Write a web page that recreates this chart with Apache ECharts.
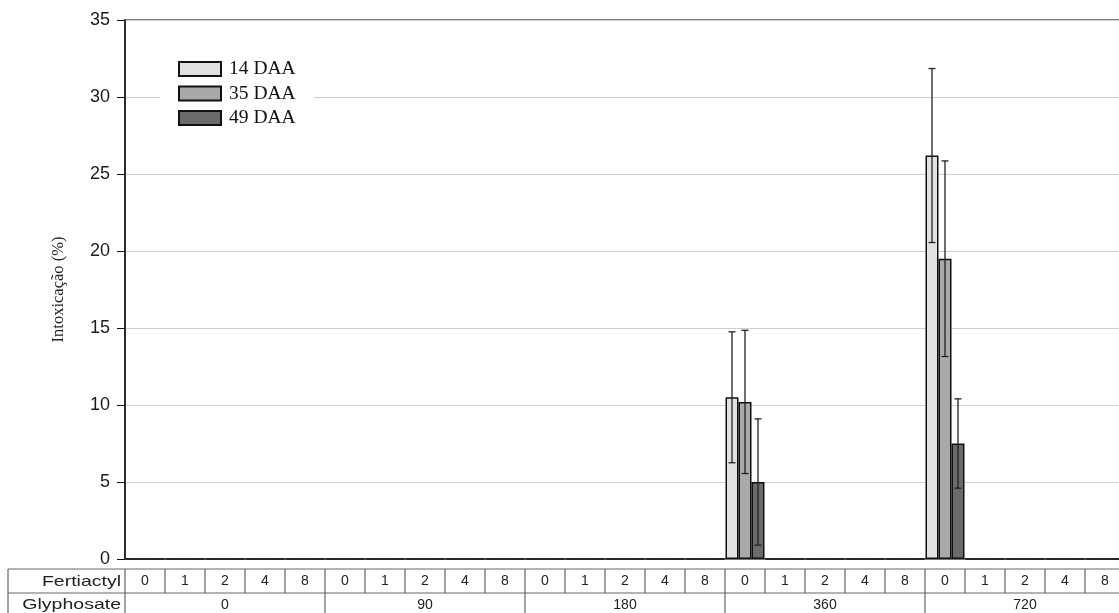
<!DOCTYPE html>
<html>
<head>
<meta charset="utf-8">
<script src="https://cdn.jsdelivr.net/npm/echarts@6/dist/echarts.min.js"></script>
<style>
  html, body { margin: 0; padding: 0; background: #fff; overflow: hidden; }
  #chart { width: 1135px; height: 613px; }
</style>
</head>
<body>
<div id="chart"></div>
<script>
// ====== data ======
const fertiactylDoses = ["0", "1", "2", "4", "8"];
const glyphosateDoses = ["0", "90", "180", "360", "720"];
const seriesNames = ["14 DAA", "35 DAA", "49 DAA"];

// one value per (glyphosate, fertiactyl) cell, 25 cells
const daa14 = [0,0,0,0,0, 0,0,0,0,0, 0,0,0,0,0, 10.5,0,0,0,0, 26.2,0,0,0,0];
const daa35 = [0,0,0,0,0, 0,0,0,0,0, 0,0,0,0,0, 10.2,0,0,0,0, 19.5,0,0,0,0];
const daa49 = [0,0,0,0,0, 0,0,0,0,0, 0,0,0,0,0, 5.0,0,0,0,0, 7.5,0,0,0,0];
// half-width of the error bars
const err14 = [0,0,0,0,0, 0,0,0,0,0, 0,0,0,0,0, 4.25,0,0,0,0, 5.65,0,0,0,0];
const err35 = [0,0,0,0,0, 0,0,0,0,0, 0,0,0,0,0, 4.65,0,0,0,0, 6.35,0,0,0,0];
const err49 = [0,0,0,0,0, 0,0,0,0,0, 0,0,0,0,0, 4.1,0,0,0,0, 2.9,0,0,0,0];

const categories = glyphosateDoses.flatMap((g) => fertiactylDoses.map((f) => g + "-" + f));
const values = [daa14, daa35, daa49];
const errors = [err14, err35, err49];
const colors = ["#e1e1e1", "#a9a9a9", "#6b6b6b"];
const BAR_W = 13;

const errData = [];
values.forEach((arr, s) => {
  arr.forEach((v, i) => {
    if (v > 0) errData.push([i, v, errors[s][i], s]);
  });
});

const sans = "'Liberation Sans', Arial, sans-serif";
const serif = "'Liberation Serif', 'Times New Roman', serif";

const chart = echarts.init(document.getElementById("chart"));

const option = {
  animation: false,
  backgroundColor: "#fff",
  grid: [
    { left: 125, top: 20, width: 1000, height: 539, show: true, borderColor: "#555", borderWidth: 1.5 },
    { left: 125, top: 20, width: 1000, height: 539, show: false },
  ],
  legend: {
    data: seriesNames,
    orient: "vertical",
    left: 160,
    top: 53,
    padding: [6, 18, 6, 18],
    backgroundColor: "#fff",
    itemWidth: 42,
    itemHeight: 14,
    itemGap: 4.5,
    icon: "rect",
    textStyle: { fontFamily: serif, fontSize: 19.5, lineHeight: 19, color: "#111", padding: [0, 0, 0, 3] },
  },
  xAxis: [
    {
      type: "category",
      gridIndex: 0,
      data: categories,
      axisLine: { lineStyle: { color: "#555", width: 1.5 } },
      axisTick: { alignWithLabel: true, interval: 0, length: 7, lineStyle: { color: "#222" } },
      axisLabel: {
        interval: 0,
        margin: 15,
        fontFamily: sans,
        fontSize: 14,
        color: "#222",
        formatter: (v) => v.split("-")[1],
      },
      splitLine: { show: false },
    },
    {
      type: "category",
      gridIndex: 1,
      data: glyphosateDoses,
      axisLine: { show: false },
      axisTick: { show: false },
      axisLabel: { interval: 0, margin: 39, fontFamily: sans, fontSize: 14, color: "#222" },
    },
  ],
  yAxis: [
    {
      type: "value",
      gridIndex: 0,
      min: 0,
      max: 35,
      interval: 5,
      name: "Intoxicação (%)",
      nameLocation: "middle",
      nameGap: 58,
      nameTextStyle: { fontFamily: serif, fontSize: 16.5, color: "#222" },
      axisLine: { show: true, lineStyle: { color: "#111", width: 1.5 } },
      axisTick: { show: true, length: 8, lineStyle: { color: "#111" } },
      axisLabel: { margin: 15, fontFamily: sans, fontSize: 18, color: "#1a1a1a" },
      splitLine: { lineStyle: { color: "#d0d0d0", width: 1 } },
    },
    { type: "value", gridIndex: 1, min: 0, max: 35, show: false },
  ],
  series: [
    ...seriesNames.map((name, s) => ({
      name,
      type: "bar",
      xAxisIndex: 0,
      yAxisIndex: 0,
      barWidth: BAR_W,
      barGap: "0%",
      data: values[s],
      itemStyle: { color: colors[s], borderColor: "#111", borderWidth: 1.5 },
    })),
    {
      type: "custom",
      name: "err",
      xAxisIndex: 0,
      yAxisIndex: 0,
      z: 5,
      data: errData,
      encode: { x: 0, y: 1 },
      renderItem: (params, api) => {
        const i = api.value(0);
        const v = api.value(1);
        const e = api.value(2);
        const s = api.value(3);
        const hi = api.coord([i, v + e]);
        const lo = api.coord([i, v - e]);
        const x = hi[0] + (s - 1) * BAR_W;
        const cap = 3.5;
        const style = { stroke: "#222", lineWidth: 1.3 };
        return {
          type: "group",
          children: [
            { type: "line", shape: { x1: x, y1: hi[1], x2: x, y2: lo[1] }, style },
            { type: "line", shape: { x1: x - cap, y1: hi[1], x2: x + cap, y2: hi[1] }, style },
            { type: "line", shape: { x1: x - cap, y1: lo[1], x2: x + cap, y2: lo[1] }, style },
          ],
        };
      },
    },
  ],
};

chart.setOption(option);

// ====== table under the axis (Fertiactyl / Glyphosate rows) ======
const c0 = chart.convertToPixel({ xAxisIndex: 0 }, 0);
const c1 = chart.convertToPixel({ xAxisIndex: 0 }, 1);
const band = c1 - c0;
const start = c0 - band / 2;
const rowTop = 569, rowMid = 593, rowBot = 613;
const tableLeft = 8;
const lineStyle = { stroke: "#666", lineWidth: 1.2 };
const rowLabel = { align: "right", verticalAlign: "middle", font: "15px " + sans, fill: "#222" };
const elements = [
  { type: "line", shape: { x1: tableLeft, y1: rowTop, x2: 1135, y2: rowTop }, style: lineStyle },
  { type: "line", shape: { x1: tableLeft, y1: rowMid, x2: 1135, y2: rowMid }, style: lineStyle },
  { type: "line", shape: { x1: tableLeft, y1: rowTop, x2: tableLeft, y2: rowBot }, style: lineStyle },
  { type: "text", x: start - 4, y: (rowTop + rowMid) / 2 + 1, scaleX: 1.3, style: { ...rowLabel, text: "Fertiactyl" } },
  { type: "text", x: start - 4, y: (rowMid + rowBot) / 2 + 2, scaleX: 1.3, style: { ...rowLabel, text: "Glyphosate" } },
];
for (let k = 0; k <= categories.length; k++) {
  const x = start + k * band;
  const isGroup = k % fertiactylDoses.length === 0;
  elements.push({
    type: "line",
    shape: { x1: x, y1: rowTop, x2: x, y2: isGroup ? rowBot : rowMid },
    style: lineStyle,
  });
}
chart.setOption({ graphic: { elements } });
</script>
</body>
</html>
